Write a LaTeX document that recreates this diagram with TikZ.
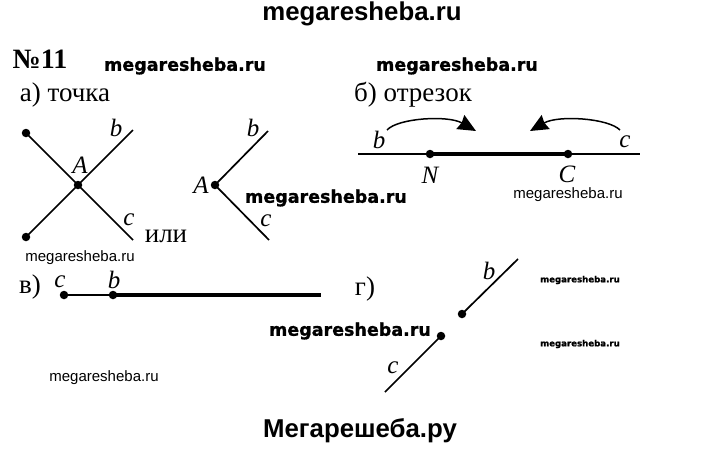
\documentclass[tikz,border=0pt]{standalone}
\usepackage{fontspec}
\setmainfont{Liberation Serif}
\newfontfamily\arialf{Liberation Sans}
\newfontfamily\verdf[BoldFeatures={FakeBold=1}]{DejaVu Sans}
\usetikzlibrary{arrows.meta}
\tikzset{
  x=1pt,y=-1pt,
  anynode/.style={inner sep=0pt,outer sep=0pt,text=black},
  titletext/.style={anynode,font=\arialf\bfseries\fontsize{25.8}{26}\selectfont},
  wmbig/.style={anynode,font=\verdf\bfseries\fontsize{17.5}{18}\selectfont},
  wmthin/.style={anynode,font=\arialf\fontsize{15}{15}\selectfont},
  wmsmall/.style={anynode,font=\verdf\bfseries\fontsize{8.6}{10}\selectfont},
  ruslabel/.style={anynode,font=\fontsize{27}{28}\selectfont},
  ital/.style={anynode,font=\itshape\fontsize{25}{26}\selectfont},
  dot/.style={circle,fill=black,draw=none,inner sep=0pt,minimum size=8.5pt},
  free/.style={inner sep=0pt,minimum size=0pt},
  thinline/.style={line width=1.7pt,black},
  thickline/.style={line width=4.4pt,black},
  curvearrow/.style={line width=1.5pt,black,-{Stealth[inset=1.5pt,length=18pt,width=16pt]}},
}
\begin{document}
\begin{tikzpicture}
\useasboundingbox (0,0) rectangle (720,450);
\fill[white] (0,0) rectangle (720,450);
% watermarks and titles
\node[titletext] (t1) at (362,14) {megaresheba.ru};
\node[titletext] (t2) at (360,431) {Мегарешеба.ру};
\node[wmbig] (w1) at (185,66) {megaresheba.ru};
\node[wmbig] (w2) at (457,66) {megaresheba.ru};
\node[wmbig] (w3) at (326,198) {megaresheba.ru};
\node[wmbig] (w4) at (350,331) {megaresheba.ru};
\node[wmthin] (w5) at (80,258) {megaresheba.ru};
\node[wmthin] (w6) at (568,195) {megaresheba.ru};
\node[wmthin] (w7) at (104,378) {megaresheba.ru};
\node[wmsmall] (w8) at (580,280) {megaresheba.ru};
\node[wmsmall] (w9) at (580,344) {megaresheba.ru};
% headings
\node[anynode,font=\bfseries\fontsize{28}{28}\selectfont] (num) at (40,59) {№11};
\node[ruslabel] (ha) at (65,95) {а) точка};
\node[ruslabel] (hb) at (413,95) {б) отрезок};
\node[ruslabel] (ili) at (166,236) {или};
\node[ruslabel] (hv) at (30,287) {в)};
\node[ruslabel] (hg) at (365,289) {г)};
% figure a, cross
\node[dot] (p1) at (26,133) {};
\node[dot] (p2) at (26,237) {};
\node[dot] (A1) at (78,185) {};
\node[free] (b1) at (133,130) {};
\node[free] (c1) at (133,240) {};
\draw[thinline] (p1.center) -- (c1.center);
\draw[thinline] (p2.center) -- (b1.center);
\node[ital] (lb1) at (116,128) {b};
\node[ital] (lA1) at (80,165) {A};
\node[ital] (lc1) at (129,220) {c};
% figure a, angle
\node[dot] (A2) at (215,185) {};
\node[free] (b2) at (268,131) {};
\node[free] (c2) at (269,240) {};
\draw[thinline] (A2.center) -- (b2.center);
\draw[thinline] (A2.center) -- (c2.center);
\node[ital] (lb2) at (253,128) {b};
\node[ital] (lA2) at (201,185) {A};
\node[ital] (lc2) at (266,221) {c};
% figure b
\node[free] (s1) at (358,154) {};
\node[free] (s2) at (640,154) {};
\node[dot] (N) at (430,154) {};
\node[dot] (C) at (568,154) {};
\draw[thinline] (s1.center) -- (s2.center);
\draw[thickline] (N.center) -- (C.center);
\node[ital] (lb3) at (379,140) {b};
\node[ital] (lc3) at (625,142) {c};
\node[ital] (lN) at (430,175) {N};
\node[ital] (lC) at (567,174) {C};
\coordinate (a1s) at (387,130);
\coordinate (a1e) at (476,131);
\coordinate (a2s) at (620,130);
\coordinate (a2e) at (530,131);
\draw[curvearrow] (a1s) .. controls (398,118) and (448,115) .. (a1e);
\draw[curvearrow] (a2s) .. controls (608,118) and (558,115) .. (a2e);
% figure v
\node[dot] (c4) at (64,295) {};
\node[dot] (b4) at (113,295) {};
\node[free] (e4) at (321,295) {};
\draw[thinline] (c4.center) -- (b4.center);
\draw[thickline] (b4.center) -- (e4.center);
\node[ital] (lc4) at (60,282) {c};
\node[ital] (lb4) at (114,280) {b};
% figure g
\node[dot] (b5) at (462,314) {};
\node[free] (e5) at (518,259) {};
\node[dot] (c5) at (441,336) {};
\node[free] (e6) at (385,392) {};
\draw[thinline] (b5.center) -- (e5.center);
\draw[thinline] (c5.center) -- (e6.center);
\node[ital] (lb5) at (489,271) {b};
\node[ital] (lc5) at (393,368) {c};
\end{tikzpicture}
\end{document}
